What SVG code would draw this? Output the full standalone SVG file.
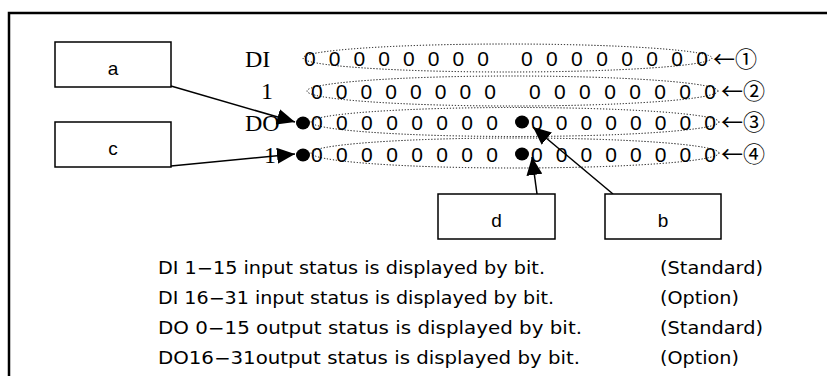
<svg xmlns="http://www.w3.org/2000/svg" width="827" height="376" viewBox="0 0 827 376">
<defs>
<style>
.box{fill:#fff;stroke:#000;stroke-width:1.5}
.lbl{font-family:"Liberation Sans",Arial,sans-serif;font-size:19px;fill:#000;text-anchor:middle}
.ser{font-family:"Liberation Serif","Times New Roman",serif;font-size:24px;fill:#000}
.dig{font-family:"Liberation Sans",Arial,sans-serif;font-size:21px;fill:#000}
.num{font-family:"Noto Sans CJK JP","DejaVu Sans",sans-serif;font-size:22px;fill:#000}
.leg{font-family:"DejaVu Sans","Liberation Sans",sans-serif;font-size:17px;fill:#000}
.dot{fill:none;stroke:#000;stroke-width:1;stroke-dasharray:1.2 1.8}
.con{stroke:#000;stroke-width:1.5;fill:none;marker-end:url(#ah)}
</style>
<marker id="ah" markerUnits="userSpaceOnUse" markerWidth="18" markerHeight="16" refX="18" refY="8" orient="auto"><path d="M0,0 L18,8 L0,16 z" fill="#000"/></marker>
</defs>
<rect x="9" y="13" width="830" height="380" fill="#fff" stroke="#000" stroke-width="2.5"/>

<g id="register">
<ellipse class="dot" cx="507.5" cy="58" rx="204.5" ry="14"/>
<ellipse class="dot" cx="512.5" cy="91" rx="205.5" ry="15"/>
<ellipse class="dot" cx="515" cy="122" rx="204" ry="14.5"/>
<ellipse class="dot" cx="515" cy="153" rx="204" ry="15"/>
<text class="ser" x="245" y="67">DI</text>
<text class="ser" x="261" y="99">1</text>
<text class="ser" x="245" y="131">DO</text>
<text class="ser" x="264" y="163">1</text>
<text class="dig" x="304" y="66" textLength="185" lengthAdjust="spacing">0 0 0 0 0 0 0 0</text>
<text class="dig" x="521" y="66" textLength="187" lengthAdjust="spacing">0 0 0 0 0 0 0 0</text>
<text class="dig" x="311" y="99" textLength="185" lengthAdjust="spacing">0 0 0 0 0 0 0 0</text>
<text class="dig" x="529" y="99" textLength="187" lengthAdjust="spacing">0 0 0 0 0 0 0 0</text>
<text class="dig" x="311" y="130" textLength="187" lengthAdjust="spacing">0 0 0 0 0 0 0 0</text>
<text class="dig" x="531" y="130" textLength="185" lengthAdjust="spacing">0 0 0 0 0 0 0 0</text>
<text class="dig" x="311" y="162" textLength="187" lengthAdjust="spacing">0 0 0 0 0 0 0 0</text>
<text class="dig" x="531" y="162" textLength="185" lengthAdjust="spacing">0 0 0 0 0 0 0 0</text>
<text class="num" x="713" y="67">←①</text>
<text class="num" x="721" y="99">←②</text>
<text class="num" x="721" y="130">←③</text>
<text class="num" x="721" y="162">←④</text>
<ellipse cx="303" cy="123" rx="7" ry="6.5" fill="#000"/>
<ellipse cx="303" cy="155" rx="7" ry="6.5" fill="#000"/>
<ellipse cx="522" cy="122" rx="7" ry="6.5" fill="#000"/>
<ellipse cx="522" cy="154" rx="7" ry="6.5" fill="#000"/>
</g>

<g id="connectors">
<line class="con" x1="171" y1="86" x2="295" y2="122"/>
<line class="con" x1="171" y1="166" x2="295" y2="154"/>
<line class="con" x1="537" y1="194" x2="532" y2="157"/>
<line class="con" x1="613" y1="194" x2="533" y2="127"/>
</g>

<g id="node-a"><rect class="box" x="55" y="42" width="116" height="45"/><text class="lbl" x="113" y="75">a</text></g>
<g id="node-c"><rect class="box" x="55" y="122" width="116" height="45"/><text class="lbl" x="113" y="155">c</text></g>
<g id="node-d"><rect class="box" x="438" y="194" width="117" height="45"/><text class="lbl" x="496.5" y="227">d</text></g>
<g id="node-b"><rect class="box" x="605" y="194" width="116" height="45"/><text class="lbl" x="663" y="227">b</text></g>

<g id="legend">
<text class="leg" x="158" y="274" textLength="387" lengthAdjust="spacingAndGlyphs">DI 1−15 input status is displayed by bit.</text>
<text class="leg" x="158" y="304" textLength="396" lengthAdjust="spacingAndGlyphs">DI 16−31 input status is displayed by bit.</text>
<text class="leg" x="158" y="334" textLength="424" lengthAdjust="spacingAndGlyphs">DO 0−15 output status is displayed by bit.</text>
<text class="leg" x="158" y="364" textLength="422" lengthAdjust="spacingAndGlyphs">DO16−31output status is displayed by bit.</text>
<text class="leg" x="660" y="274" textLength="103" lengthAdjust="spacingAndGlyphs">(Standard)</text>
<text class="leg" x="660" y="304" textLength="79" lengthAdjust="spacingAndGlyphs">(Option)</text>
<text class="leg" x="660" y="334" textLength="103" lengthAdjust="spacingAndGlyphs">(Standard)</text>
<text class="leg" x="660" y="364" textLength="79" lengthAdjust="spacingAndGlyphs">(Option)</text>
</g>
</svg>
